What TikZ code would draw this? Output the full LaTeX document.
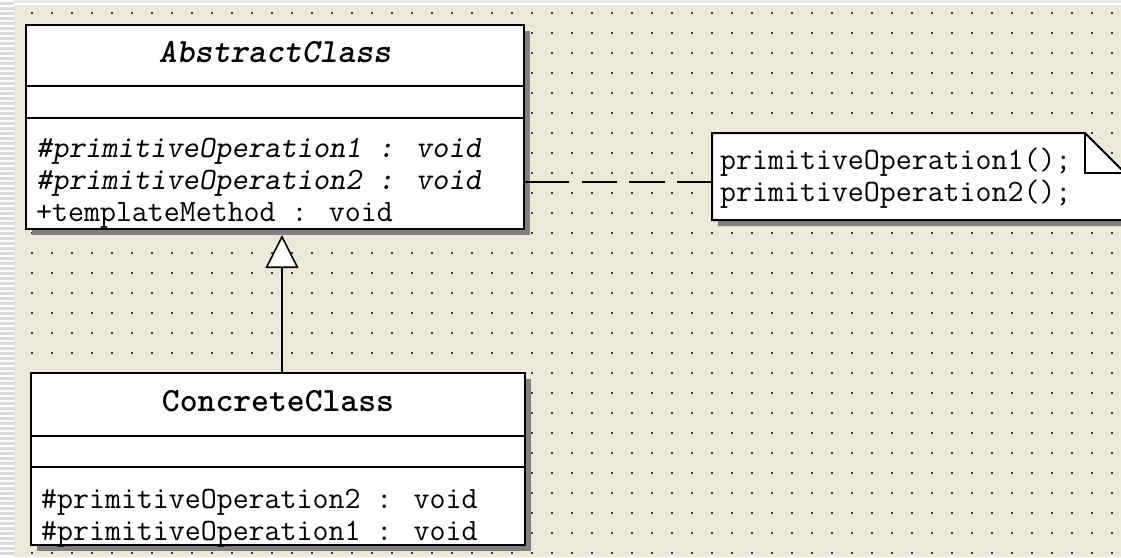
\documentclass[tikz,border=0pt]{standalone}
\usepackage{tikz}
\usetikzlibrary{
	positioning,
	arrows.meta,
	shadows
}

\definecolor{canvas}{RGB}{236,233,216}
\definecolor{griddot}{RGB}{60,60,60}
\definecolor{shade}{RGB}{128,128,128}
\definecolor{rail}{RGB}{218,218,218}

\begin{document}
\begin{tikzpicture}[x=1pt, y=-1pt,
		box/.style={draw, line width=2pt, fill=white, outer sep=0pt, inner sep=0pt,
			drop shadow={shadow xshift=6pt, shadow yshift=-6pt, fill=shade, opacity=1}},
		header/.style={font=\fontsize{34}{34}\selectfont\ttfamily\bfseries, text depth=8pt},
		members/.style={anchor=base west, align=left, inner sep=0pt,
			font=\fontsize{31}{32}\selectfont\ttfamily},
		notetext/.style={anchor=base west, align=left, inner sep=0pt,
			font=\fontsize{31}{32}\selectfont\ttfamily},
		notepath/.style={draw, line width=2pt, fill=white,
			drop shadow={shadow xshift=6pt, shadow yshift=-6pt, fill=shade, opacity=1}},
		dashline/.style={line width=1.6pt, dash pattern=on 45pt off 13pt on 35pt off 12pt on 36pt off 12pt on 36pt off 12pt},
		inherit/.style={line width=1.6pt, shorten >=6pt,
			-{Triangle[length=33pt, width=33pt, fill=white, line width=1.6pt]}}
	]
	\useasboundingbox (0,0) rectangle (1121,557);

	% canvas
	\fill[rail] (0,0) rectangle (14,557);
	\foreach \y in {1,6,...,556}
		\draw[white, line width=2pt] (0,\y) -- (14,\y);
	\fill[gray!18] (14,0) rectangle (1121,6);
	\draw[white, line width=1.5pt] (14,4) -- (1121,4);
	\fill[canvas] (14,6) rectangle (1121,557);
	\foreach \i in {32,52,...,1112}
		\foreach \j in {13,33,...,553}
			\fill[griddot] (\i-0.8,\j-0.8) rectangle ++(1.6,1.6);

	% AbstractClass
	\node[box, header, minimum width=498pt, minimum height=61pt] (abstract-name) at (275,55.5) {\slshape AbstractClass};
	\node[box, minimum width=498pt, minimum height=32pt, below=0pt of abstract-name] (abstract-attr) {};
	\node[box, minimum width=498pt, minimum height=111pt, below=0pt of abstract-attr] (abstract-ops) {};
	% base = last line
	\node[members] (abstract-text) at ([shift={(10pt,-103pt)}]abstract-ops.north west)
		{\slshape\#primitiveOperation1 : void\\\slshape\#primitiveOperation2 : void\\\upshape+templateMethod : void};

	% ConcreteClass
	\node[box, header, minimum width=494pt, minimum height=63pt] (concrete-name) at (278,404.5) {ConcreteClass};
	\node[box, minimum width=494pt, minimum height=31pt, below=0pt of concrete-name] (concrete-attr) {};
	\node[box, minimum width=494pt, minimum height=78pt, below=0pt of concrete-attr] (concrete-ops) {};
	\node[members] (concrete-text) at ([shift={(10pt,-73pt)}]concrete-ops.north west)
		{\#primitiveOperation2 : void\\\#primitiveOperation1 : void};

	% note
	\node[minimum width=413pt, minimum height=87pt, inner sep=0pt, outer sep=0pt, anchor=north west] (note) at (712,133) {};
	\draw[notepath] (note.north west) -- ([xshift=-40pt]note.north east) -- ([yshift=-40pt]note.north east)
		-- (note.south east) -- (note.south west) -- cycle;
	\draw[line width=2pt] ([xshift=-40pt]note.north east) |- ([yshift=-40pt]note.north east);
	\node[notetext] (note-text) at ([shift={(8pt,-68pt)}]note.north west)
		{primitiveOperation1();\\primitiveOperation2();};

	% connectors
	\draw[dashline] ([yshift=-5.5pt]note.west -| abstract-ops.east) -- ([yshift=-5.5pt]note.west);
	\draw[inherit] ([xshift=4pt]concrete-name.north) -- ([xshift=4pt]concrete-name.north |- abstract-ops.south);
\end{tikzpicture}
\end{document}
